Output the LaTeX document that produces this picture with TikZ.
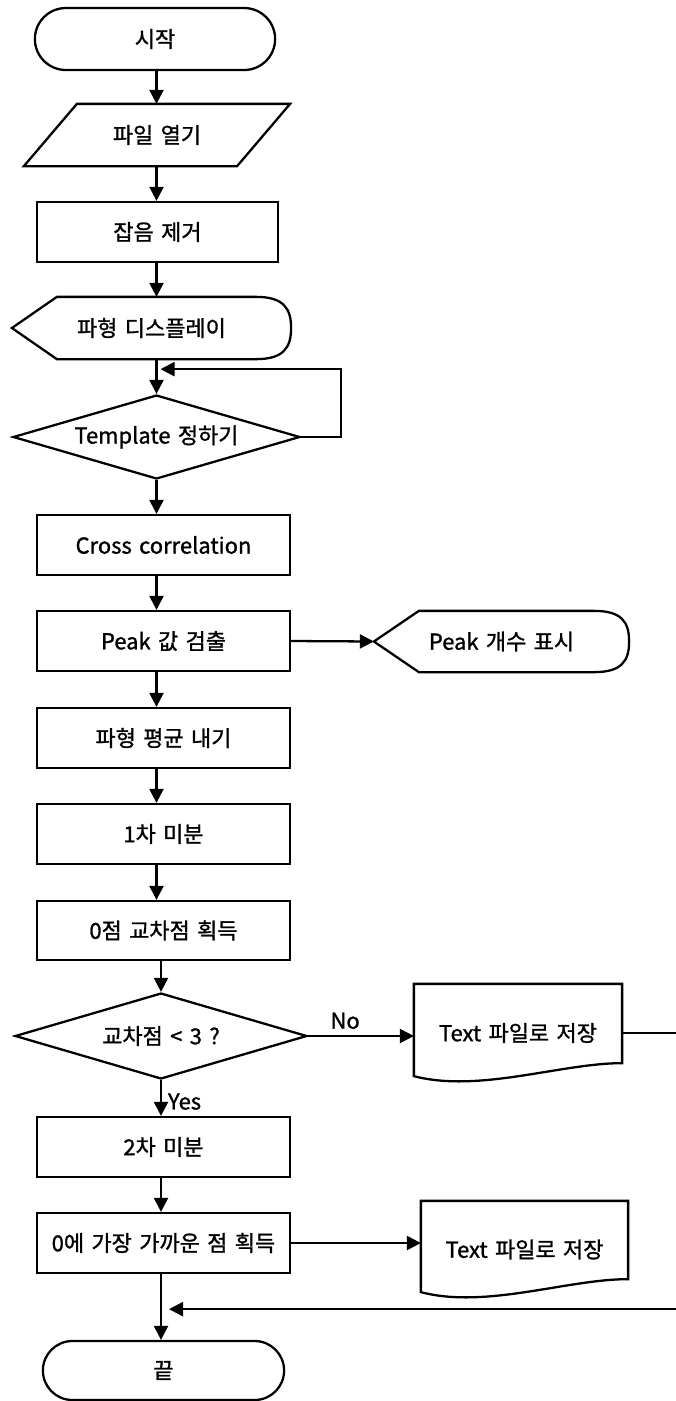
\documentclass[tikz,border=0pt]{standalone}
\usepackage{fontspec}
\setmainfont{Noto Sans CJK KR}[FakeBold=1.2, WordSpace=1.5]
\usetikzlibrary{arrows.meta,calc,shapes.misc,shapes.geometric}

% display symbol: pointed left side, rounded right side
\newcommand{\dispoutline}[1]{%
  \draw (#1.west) -- ($(#1.north west)+(45,0)$) -- ($(#1.north east)+(-35,0)$)
    .. controls ($(#1.north east)+(-8,0)$) and ($(#1.east)+(0,-20)$) .. (#1.east)
    .. controls ($(#1.east)+(0,20)$) and ($(#1.south east)+(-8,0)$) .. ($(#1.south east)+(-35,0)$)
    -- ($(#1.south west)+(45,0)$) -- cycle;}
% document symbol: wavy bottom edge
\newcommand{\docoutline}[1]{%
  \draw (#1.north west) -- (#1.north east) -- ($(#1.south east)+(0,-19)$)
    .. controls ($(#1.south east)+(-61,-19)$) and ($(#1.south west)+(65,11)$) .. ($(#1.south west)+(0,-6)$)
    -- cycle;}

\begin{document}
\begin{tikzpicture}[x=0.02cm, y=-0.02cm, line width=1.3pt,
  font=\fontsize{12.5}{14}\selectfont,
  arr/.style={-{Triangle[length=8pt,width=8pt]}},
  term/.style={draw, rounded rectangle, minimum width=5.06cm, minimum height=1.2cm},
  proc/.style={draw, rectangle, minimum width=5.06cm, minimum height=1.2cm},
  cond/.style={draw, diamond, aspect=3.4, inner sep=0pt},
  blank/.style={rectangle, inner sep=0pt}]
\useasboundingbox (0,0) rectangle (676,1401);
\clip (0,0) rectangle (676,1401);

% main column
\node[term, minimum width=5.04cm, minimum height=1.24cm] (start) at (155,39) {시작};
\node[blank, minimum width=4.22cm, minimum height=1.2cm] (open) at (157,135) {파일 열기};
\node[proc, minimum width=4.82cm] (noise) at (157.5,232) {잡음 제거};
\node[blank, minimum width=5.54cm, minimum height=1.2cm] (disp) at (151.5,328) {파형 디스플레이};
\node[cond, minimum width=5.74cm, minimum height=1.68cm] (templ) at (156.5,437) {Template 정하기};
\node[proc] (cc) at (163.5,545) {Cross correlation};
\node[proc] (pk) at (163.5,641) {Peak 값 검출};
\node[proc] (avg) at (163.5,738) {파형 평균 내기};
\node[proc] (d1) at (163.5,834) {1차 미분};
\node[proc, minimum height=1.18cm] (zc) at (163.5,930.5) {0점 교차점 획득};
\node[cond, minimum width=5.84cm, minimum height=1.72cm] (dec) at (161,1036) {교차점 < 3 ?};
\node[proc] (d2) at (163.5,1147) {2차 미분};
\node[proc] (near) at (163.5,1243) {0에 가장 가까운 점 획득};
\node[term, minimum height=1.18cm] (end) at (163.5,1370.5) {끝};

% side column
\node[blank, minimum width=5.06cm, minimum height=1.18cm] (pkshow) at (501.5,641.5) {Peak 개수 표시};
\node[blank, minimum width=4.12cm, minimum height=1.92cm] (doc1) at (518,1033) {Text 파일로 저장};
\node[blank, minimum width=4.1cm, minimum height=1.9cm] (doc2) at (524.5,1249.5) {Text 파일로 저장};

% outlines
\draw ($(open.south west)+(-26.5,0)$) -- ($(open.north west)+(26.5,0)$)
  -- ($(open.north east)+(26.5,0)$) -- ($(open.south east)+(-26.5,0)$) -- cycle;
\dispoutline{disp}
\dispoutline{pkshow}
\docoutline{doc1}
\docoutline{doc2}

% connectors
\foreach \a/\b in {start/open, open/noise, noise/disp, disp/templ, templ/cc, cc/pk, pk/avg, avg/d1, d1/zc}
  \draw[arr] (\a.south -| templ) -- (\b.north -| templ);
\draw[arr] (templ.east) -- ++(40,0) |- ($(disp.south -| templ)+(4,10)$);
\draw[arr] (pk.east) -- (pkshow.west);
\draw[arr] (zc.south -| dec) -- (dec.north);
\draw[arr] (dec.east) -- node[above, pos=0.35] {No} (dec.east -| doc1.west);
\draw[arr] (dec.south) -- node[right, pos=0.6] {Yes} (dec.south |- d2.north);
\draw[arr] (d2.south -| dec) -- (near.north -| dec);
\draw[arr] (near.east) -- (near.east -| doc2.west);
\draw[arr] (near.south -| dec) -- (end.north -| dec);
\draw[arr] (doc1.east) -- ++(75,0) |- ($(near.south -| dec)+(8,35)$);
\end{tikzpicture}
\end{document}
